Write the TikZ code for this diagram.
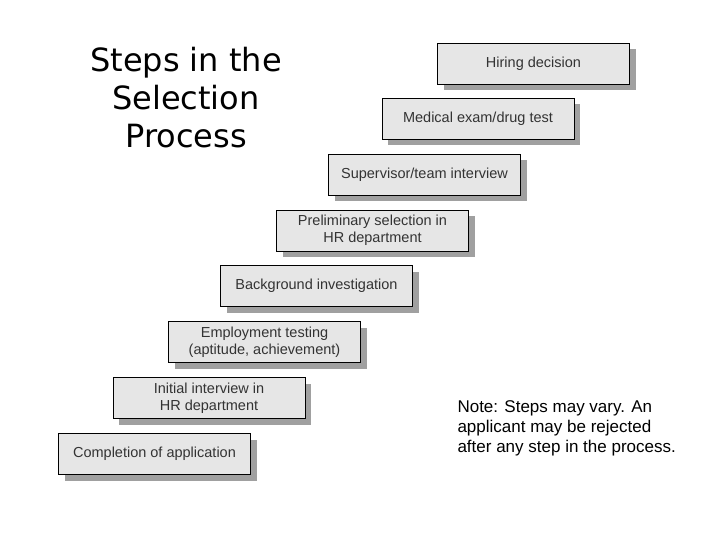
\documentclass[tikz,border=0pt]{standalone}
\usepackage{fontspec}
\usetikzlibrary{shadows}
\setmainfont{Liberation Sans}
\newfontfamily\titlefont{DejaVu Sans}
\definecolor{boxfill}{HTML}{E6E6E6}
\definecolor{shadowc}{HTML}{A0A0A0}
\definecolor{txt}{HTML}{333333}
\begin{document}
\begin{tikzpicture}[x=1pt,y=-1pt,
  stepbox/.style={draw=black,fill=boxfill,minimum width=192pt,minimum height=41pt,
    text=txt,font=\fontsize{14.5pt}{17pt}\selectfont,align=center,inner sep=0pt,
    line width=0.8pt,
    drop shadow={shadow xshift=6pt,shadow yshift=-6pt,fill=shadowc,opacity=1}}]
\useasboundingbox (0,0) rectangle (720,540);
\node[stepbox] (s8) at (533.5,63.5) {Hiring decision};
\node[stepbox] (s7) at (478,118.5) {Medical exam/drug test};
\node[stepbox] (s6) at (424.5,174.5) {Supervisor/team interview};
\node[stepbox] (s5) at (372.5,230.5) {Preliminary selection in\\HR department};
\node[stepbox] (s4) at (316.5,286) {Background investigation};
\node[stepbox] (s3) at (264.5,342) {Employment testing\\(aptitude, achievement)};
\node[stepbox] (s2) at (209,398) {Initial interview in\\HR department};
\node[stepbox] (s1) at (154.5,454) {Completion of application};
\node[align=center,font=\titlefont\fontsize{32pt}{38pt}\selectfont] (title) at (186,98)
  {Steps in the\\Selection\\Process};
\node[align=left,anchor=west,font=\fontsize{17pt}{20pt}\selectfont] (note) at (454,428)
  {Note: Steps may vary. An\\applicant may be rejected\\after any step in the process.};
\end{tikzpicture}
\end{document}
